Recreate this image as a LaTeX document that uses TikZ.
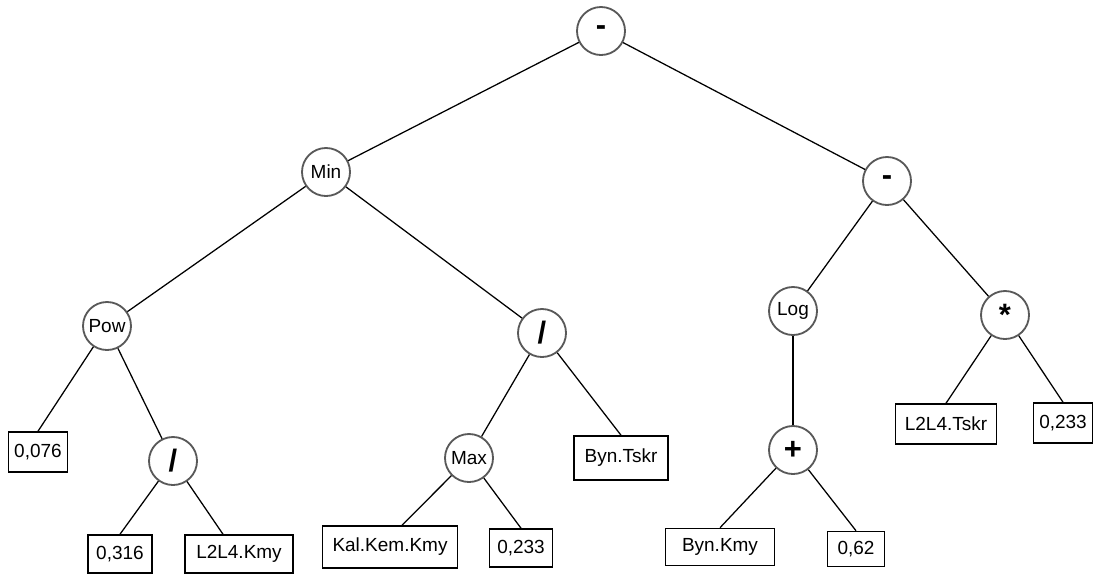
\documentclass[tikz,border=0pt]{standalone}
\usepackage{fontspec}
\setmainfont{Liberation Sans}
\usepackage{tikz}
\usetikzlibrary{positioning}

\begin{document}
\begin{tikzpicture}[
  x=0.025cm, y=-0.025cm,
  every node/.style={font=\fontsize{13.5}{15}\selectfont},
  opnode/.style={circle, draw=black!65, line width=1.3pt, fill=white, inner sep=0pt, minimum size=1.2cm},
  opsym/.style={opnode, font=\fontsize{22}{22}\selectfont\bfseries},
  leaf/.style={draw=black, line width=1.1pt, inner sep=2pt, minimum height=#1},
  leaf/.default=1cm,
  edge/.style={black, line width=0.9pt}
]
\useasboundingbox (0,0) rectangle (1096,581);

% Operator nodes
\node[opsym]  (root)  at (601,31)  {-};
\node[opnode] (min)   at (326,172) {Min};
\node[opsym]  (sub)   at (887,181) {-};
\node[opnode] (pow)   at (107,326) {Pow};
\node[opsym]  (divA)  at (542,333) {/};
\node[opnode] (log)   at (793,311) {Log};
\node[opsym]  (mul)   at (1005,315) {*};
\node[opsym]  (divB)  at (173,461) {/};
\node[opnode] (max)   at (469,458) {Max};
\node[opsym]  (plus)  at (793,450) {+};

% Leaves -- constants and variables
\node[leaf, minimum width=1.475cm] (c076)  at (38,452)  {0,076};
\node[leaf, minimum width=2.35cm, minimum height=1.1cm] (bynT) at (621,458) {Byn.Tskr};
\node[leaf, minimum width=2.525cm] (l2t)   at (946,424) {L2L4.Tskr};
\node[leaf, minimum width=1.475cm] (c233r) at (1063,423) {0,233};
\node[leaf=0.95cm, minimum width=1.6cm]   (c316) at (120,554) {0,316};
\node[leaf=0.95cm, minimum width=2.7cm]   (l2k)  at (239,554) {L2L4.Kmy};
\node[leaf=1.05cm, minimum width=3.375cm] (kal)  at (390,547) {Kal.Kem.Kmy};
\node[leaf=0.95cm, minimum width=1.575cm] (c233m) at (521,548) {0,233};
\node[leaf=0.925cm, minimum width=2.725cm] (bynK) at (720,547) {Byn.Kmy};
\node[leaf=0.875cm, minimum width=1.425cm] (c062) at (856,549) {0,62};

% Tree edges
\draw[edge] (root) -- (min);
\draw[edge] (root) -- (sub);
\draw[edge] (min) -- (pow);
\draw[edge] (min) -- (divA);
\draw[edge] (sub) -- (log);
\draw[edge] (sub) -- (mul);
\draw[edge] (pow) -- (c076.north);
\draw[edge] (pow) -- (divB);
\draw[edge] (divB) -- (c316.north);
\draw[edge] (divB) -- ([xshift=-0.4cm]l2k.north);
\draw[edge] (divA) -- (max);
\draw[edge] (divA) -- (bynT.north);
\draw[edge] (max) -- ([xshift=0.3cm]kal.north);
\draw[edge] (max) -- (c233m.north);
\draw[edge] (log) -- (plus);
\draw[edge] (plus) -- (bynK.north);
\draw[edge] (plus) -- (c062.north);
\draw[edge] (mul) -- (l2t.north);
\draw[edge] (mul) -- (c233r.north);

\end{tikzpicture}
\end{document}
